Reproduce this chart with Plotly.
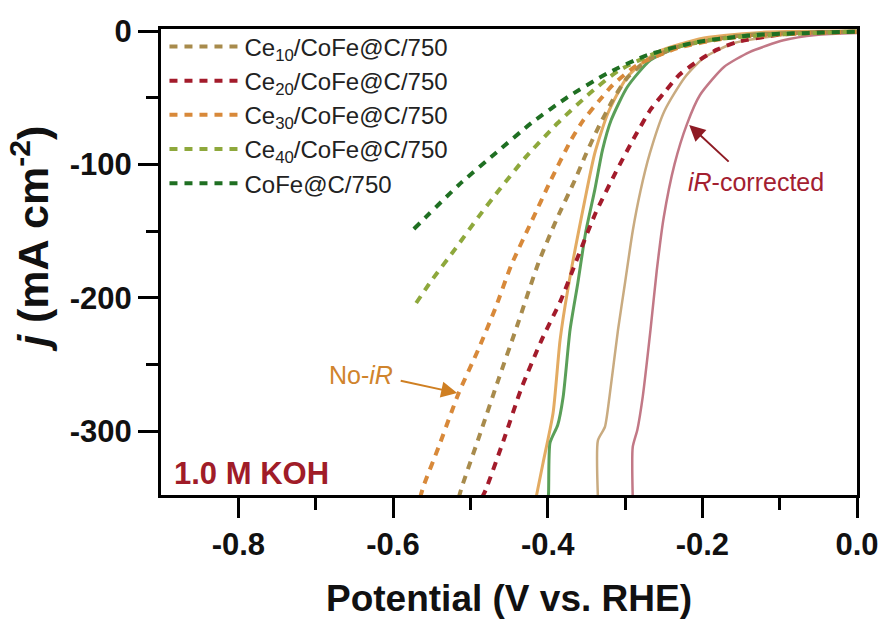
import plotly.graph_objects as go

# ---- data (potential V vs RHE, current density mA cm^-2) ----
# No-iR (dashed) curves
ce10_noir_v = [-0.515, -0.511, -0.487, -0.464, -0.440, -0.412, -0.389, -0.363, -0.351, -0.335, -0.316, -0.297, -0.271, -0.232, -0.155, -0.08, 0.0]
ce10_noir_j = [-350, -342, -301.5, -262, -222, -174, -142, -109.5, -93, -73, -52, -35, -22, -12, -3.8, -1.5, -0.5]

ce20_noir_v = [-0.485, -0.480, -0.457, -0.434, -0.408, -0.383, -0.361, -0.338, -0.312, -0.290, -0.267, -0.249, -0.230, -0.207, -0.181, -0.155, -0.104, -0.05, 0.0]
ce20_noir_j = [-350, -344, -307, -268, -232, -202, -169.5, -136.5, -106, -82, -59, -46, -33, -23, -14, -8.3, -3, -1.2, -0.5]

ce30_noir_v = [-0.565, -0.560, -0.541, -0.515, -0.489, -0.467, -0.447, -0.421, -0.396, -0.370, -0.354, -0.333, -0.316, -0.284, -0.232, -0.168, -0.091, 0.0]
ce30_noir_j = [-350, -340.5, -312, -271.5, -238, -207, -175.5, -143, -112, -82, -67, -52, -40.5, -25.5, -12.8, -5.3, -2.3, -0.5]

ce40_noir_v = [-0.570, -0.550, -0.519, -0.489, -0.461, -0.429, -0.387, -0.344, -0.309, -0.258, -0.194, -0.117, 0.0]
ce40_noir_j = [-204, -187, -163, -139, -118, -95, -69, -46, -30, -16, -7, -3, -0.5]

cofe_noir_v = [-0.573, -0.515, -0.467, -0.421, -0.374, -0.322, -0.271, -0.207, -0.130, 0.0]
cofe_noir_j = [-148.5, -115.5, -91.5, -69, -49.5, -31.5, -18, -8.3, -3, -0.5]

# iR-corrected (solid) curves
ce30_ir_v = [-0.415, -0.406, -0.393, -0.384, -0.374, -0.352, -0.339, -0.322, -0.297, -0.258, -0.198, -0.117, 0.0]
ce30_ir_j = [-350, -324, -286.5, -232, -194, -127, -91.5, -61.5, -34.5, -15.8, -5.3, -0.8, 0]

cofe_ir_v = [-0.400, -0.399, -0.397, -0.387, -0.380, -0.371, -0.361, -0.351, -0.339, -0.329, -0.318, -0.297, -0.267, -0.223, -0.143, 0.0]
cofe_ir_j = [-350, -348, -309, -295.5, -274.5, -224, -189, -151.5, -119, -89, -67, -42, -21.8, -10.5, -3, 0]

ce10_ir_v = [-0.335, -0.335, -0.326, -0.320, -0.309, -0.300, -0.290, -0.280, -0.268, -0.249, -0.223, -0.198, -0.159, -0.095, 0.0]
ce10_ir_j = [-350, -307, -297, -274, -224, -189, -150, -120, -92, -60, -35, -20, -9, -3, 0]

ce20_ir_v = [-0.290, -0.290, -0.284, -0.277, -0.267, -0.259, -0.250, -0.236, -0.220, -0.203, -0.172, -0.139, -0.095, -0.053, 0.0]
ce20_ir_j = [-350, -312, -299, -274, -224, -180, -140, -100, -70, -48, -27, -15.8, -7, -3, -1.5]

legend_names = ["Ce<sub>10</sub>/CoFe@C/750", "Ce<sub>20</sub>/CoFe@C/750",
                "Ce<sub>30</sub>/CoFe@C/750", "Ce<sub>40</sub>/CoFe@C/750", "CoFe@C/750"]

x_tickvals = [-0.8, -0.6, -0.4, -0.2, 0.0]
x_ticktext = ["-0.8", "-0.6", "-0.4", "-0.2", "0.0"]
y_tickvals = [0, -100, -200, -300]
y_ticktext = ["0", "-100", "-200", "-300"]

# ---- styles ----
C_CE10 = "#a88b4c"
C_CE20 = "#a31b2b"
C_CE30 = "#d8893a"
C_CE40 = "#8ea83c"
C_COFE = "#1f6f22"

FONT = "Liberation Sans, Arial, sans-serif"

fig = go.Figure()

solid = [
    (ce30_ir_v, ce30_ir_j, "#e3ab62", 3),
    (cofe_ir_v, cofe_ir_j, "#5a9f58", 3),
    (ce10_ir_v, ce10_ir_j, "#c9ab80", 2.5),
    (ce20_ir_v, ce20_ir_j, "#c27886", 2.5),
]
for v, j, c, w in solid:
    fig.add_trace(go.Scatter(x=v, y=j, mode="lines", showlegend=False,
                             line=dict(color=c, width=w, shape="spline", smoothing=0.6)))

dashed = [
    (ce10_noir_v, ce10_noir_j, C_CE10),
    (ce20_noir_v, ce20_noir_j, C_CE20),
    (ce30_noir_v, ce30_noir_j, C_CE30),
    (ce40_noir_v, ce40_noir_j, C_CE40),
    (cofe_noir_v, cofe_noir_j, C_COFE),
]
for (v, j, c), name in zip(dashed, legend_names):
    fig.add_trace(go.Scatter(x=v, y=j, mode="lines", name=name, legendgroup=name,
                             line=dict(color=c, width=4, dash="8px,7px", shape="spline", smoothing=0.6)))

axis_common = dict(showline=True, linecolor="black", linewidth=3, mirror=True,
                   ticks="outside", tickwidth=3, tickcolor="black", ticklen=20,
                   showgrid=False, zeroline=False,
                   tickfont=dict(family=FONT, size=31, color="#111", weight="bold"))

fig.update_xaxes(range=[-0.9, 0.0], tickvals=x_tickvals, ticktext=x_ticktext,
                 minor=dict(tickvals=[-0.7, -0.5, -0.3, -0.1], ticks="outside", ticklen=12,
                            tickwidth=3, tickcolor="black"),
                 title=dict(text="<b>Potential (V vs. RHE)</b>", standoff=24,
                            font=dict(family=FONT, size=37, color="#111")),
                 **axis_common)
fig.update_yaxes(range=[-348, 1.5], tickvals=y_tickvals, ticktext=y_ticktext,
                 minor=dict(tickvals=[-50, -150, -250], ticks="outside", ticklen=12,
                            tickwidth=3, tickcolor="black"),
                 **axis_common)

fig.update_layout(
    width=891, height=624,
    margin=dict(l=161, r=29, t=29, b=129),
    paper_bgcolor="white", plot_bgcolor="white",
    legend=dict(x=0.005, y=1.01, xanchor="left", yanchor="top", itemwidth=70,
                bgcolor="rgba(0,0,0,0)", traceorder="grouped", tracegroupgap=0,
                font=dict(family=FONT, size=24, color="#222")),
    showlegend=True,
)

# y-axis title as a rotated annotation
fig.add_annotation(x=-0.188, y=0.55, xref="paper", yref="paper", xanchor="center", yanchor="middle",
                   text="<b><i>j</i> (mA cm<sup>-2</sup>)</b>", textangle=-90, showarrow=False,
                   font=dict(family=FONT, size=43, color="#111"))

# annotations
fig.add_annotation(x=-0.217, y=-70.5, ax=-0.164, ay=-99, xref="x", yref="y", axref="x", ayref="y",
                   text="", showarrow=True, arrowhead=2, arrowsize=1.6, arrowwidth=2, arrowcolor="#8e1b24")
fig.add_annotation(x=-0.13, y=-113, xref="x", yref="y", text="<i>iR</i>-corrected", showarrow=False,
                   font=dict(family=FONT, size=25, color="#a32030"))
fig.add_annotation(x=-0.517, y=-271.5, ax=-0.592, ay=-262, xref="x", yref="y", axref="x", ayref="y",
                   text="", showarrow=True, arrowhead=2, arrowsize=1.6, arrowwidth=2, arrowcolor="#cf7f22")
fig.add_annotation(x=-0.641, y=-258, xref="x", yref="y", text="No-<i>iR</i>", showarrow=False,
                   font=dict(family=FONT, size=25, color="#d0842c"))
fig.add_annotation(x=-0.783, y=-331.5, xref="x", yref="y", text="<b>1.0 M KOH</b>", showarrow=False,
                   font=dict(family=FONT, size=31, color="#a01c28"))

fig.write_html("out.html")
